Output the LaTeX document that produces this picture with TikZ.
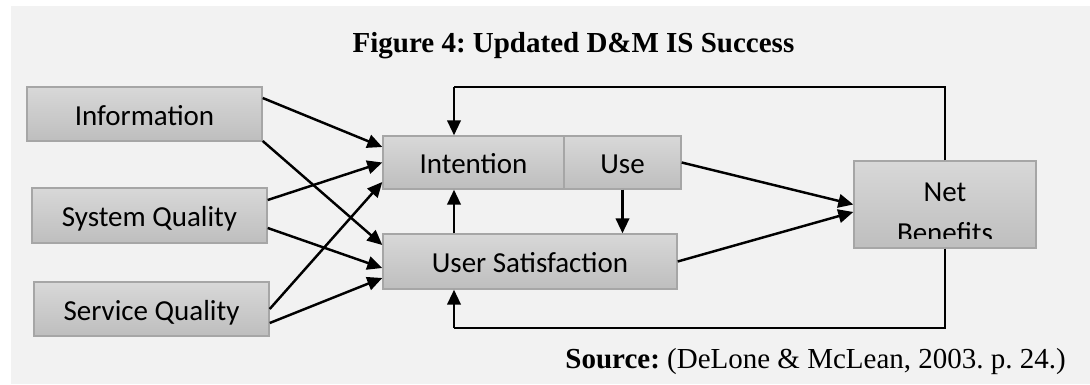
\documentclass[tikz,border=0pt]{standalone}
\usepackage{fontspec}
\setmainfont{Liberation Serif}
\newfontfamily\boxfont{Carlito}
\usetikzlibrary{arrows.meta}
\definecolor{bggray}{HTML}{F2F2F2}
\definecolor{boxtop}{HTML}{D8D8D8}
\definecolor{boxbot}{HTML}{BEBEBE}
\definecolor{boxline}{HTML}{A6A6A6}
\frenchspacing
\tikzset{
  box/.style={rectangle, draw=boxline, line width=0.8pt, top color=boxtop, bottom color=boxbot, font=\boxfont\fontsize{16.5}{23.3}\selectfont, inner sep=0pt, text height=14.5pt, text depth=1.5pt},
  arr/.style={line width=1.4pt, -{Triangle[length=0.3cm,width=0.27cm]}},
  thin/.style={line width=0.7pt}
}
\begin{document}
\begin{tikzpicture}
\useasboundingbox (0,0) rectangle (21.8,7.68);
\fill[bggray] (0.22,0) rectangle (21.8,7.56);
\node[anchor=base, font=\fontsize{16.5}{19}\selectfont\bfseries] (title) at (11.47,6.62) {Figure 4: Updated D\&M IS Success};
\node[anchor=base east, font=\fontsize{16.5}{19}\selectfont] (src) at (21.44,0.32) {\textbf{Source:} (DeLone \& McLean, 2003. p. 24.)};
\node[box, minimum width=4.70cm, minimum height=1.08cm] (info) at (2.89,5.40) {Information};
\node[box, minimum width=4.70cm, minimum height=1.10cm] (sys) at (2.99,3.37) {System Quality};
\node[box, minimum width=4.70cm, minimum height=1.08cm] (serv) at (3.03,1.50) {Service Quality};
\node[box, minimum width=3.62cm, minimum height=1.06cm] (int) at (9.47,4.43) {Intention};
\node[box, minimum width=2.34cm, minimum height=1.06cm] (use) at (12.45,4.43) {Use};
\node[box, minimum width=5.88cm, minimum height=1.10cm] (us) at (10.60,2.45) {User Satisfaction};
\node[box, minimum width=3.64cm, minimum height=1.74cm] (nb) at (18.90,3.59) {};
\begin{scope}
\clip ([yshift=0.2cm]nb.south west) rectangle (nb.north east);
\node[align=center, font=\boxfont\fontsize{16.5}{23.3}\selectfont] (nbtext) at ([yshift=-0.16cm]nb.center) {Net\\Benefits};
\end{scope}
\coordinate (topfb) at (9.08,5.94); \coordinate (botfb) at (9.08,1.12);
\foreach \a/\sa/\b/\sb in {info/0.32/int/0.31, info/-0.54/us/0.33, sys/0.31/int/0, sys/-0.25/us/-0.13, serv/0/int/-0.39, serv/-0.28/us/-0.33} { \draw[arr] ([yshift=\sa cm]\a.east) -- ([yshift=\sb cm]\b.west); };
\draw[arr] (use.east) -- (nb.west); \draw[arr] (us.east) -- ([yshift=-0.15cm]nb.west);
\draw[arr] (use.south) -- (use.south |- us.north);
\draw[arr] (botfb |- us.north) -- (botfb |- int.south);
\draw[thin] (nb.north) |- (topfb); \draw[arr] (topfb) -- (topfb |- int.north);
\draw[thin] (nb.south) |- (botfb); \draw[arr] (botfb) -- (botfb |- us.south);
\end{tikzpicture}
\end{document}
